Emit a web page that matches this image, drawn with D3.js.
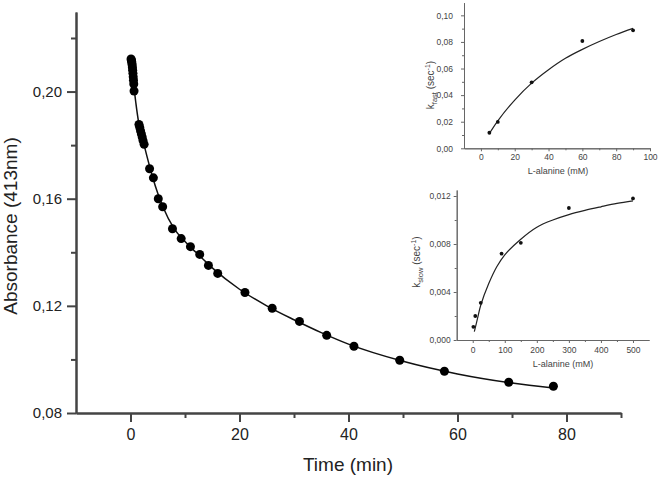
<!DOCTYPE html>
<html>
<head>
<meta charset="utf-8">
<script src="https://cdn.jsdelivr.net/npm/d3@7"></script>
<style>
  body { margin: 0; background: #fff; }
  svg { font-family: "Liberation Sans", Arial, sans-serif; }
</style>
</head>
<body>
<svg id="chart" width="660" height="477"></svg>
<script>
// main plot: absorbance decay
const time = [0.10, 0.15, 0.20, 0.25, 0.30, 0.35, 0.40, 0.45, 0.50, 0.55, 0.60, 0.65,
  1.55, 1.70, 1.85, 2.00, 2.15, 2.30, 2.50,
  3.5, 4.2, 5.1, 5.9, 7.7, 9.3, 11.0, 12.7, 14.3, 16.0, 21.0, 26.0, 31.0, 36.0, 41.0, 49.4, 57.6, 69.4, 77.6]
const absorb = [0.2122, 0.2118, 0.2113, 0.2107, 0.2099, 0.2090, 0.2080, 0.2068, 0.2055, 0.2042, 0.2028, 0.2002,
  0.1877, 0.1866, 0.1853, 0.1842, 0.1830, 0.1817, 0.1803,
  0.1712, 0.1678, 0.1600, 0.1570, 0.1488, 0.1451, 0.1421, 0.1392, 0.1351, 0.1321, 0.1250, 0.1191, 0.1142, 0.1090, 0.1049, 0.0997, 0.0956, 0.0915, 0.0900]
// fitted curve as drawn in the picture
const fitTime = [0, 0.25, 0.5, 0.75, 1, 1.5, 2, 2.5, 3, 4, 5, 6, 8, 10, 12, 15, 20, 25, 30, 35, 40, 50, 60, 70, 77.6]
const fitAbs = [0.2128, 0.2105, 0.2055, 0.1998, 0.1955, 0.1885, 0.1842, 0.1800, 0.1760, 0.1685, 0.1620, 0.1567, 0.1488, 0.1440, 0.1400, 0.1342, 0.1262, 0.1200, 0.1148, 0.1100, 0.1057, 0.0993, 0.0946, 0.0912, 0.0893]
const mainXTicks = [0, 20, 40, 60, 80]
const mainYTicks = [0.08, 0.12, 0.16, 0.20]

// top inset: k_fast
const fastConc = [5, 10, 30, 60, 90]
const fastK = [0.0117, 0.0198, 0.0496, 0.0807, 0.0887]
const fastFitConc = [5, 10, 20, 30, 40, 50, 60, 70, 80, 90]
const fastFitK = [0.0111, 0.0207, 0.0363, 0.0490, 0.0591, 0.0677, 0.0744, 0.0803, 0.0856, 0.0902]
const fastXTicks = [0, 20, 40, 60, 80, 100]
const fastYTicks = [0, 0.02, 0.04, 0.06, 0.08, 0.10]

// bottom inset: k_slow
const slowConc = [2, 8, 25, 90, 150, 300, 500]
const slowK = [0.0011, 0.0020, 0.0031, 0.0072, 0.0081, 0.0110, 0.0118]
const slowFitConc = [5, 15, 25, 50, 75, 100, 150, 200, 250, 300, 350, 400, 450, 500]
const slowFitK = [0.0007, 0.0018, 0.0029, 0.0047, 0.0061, 0.0071, 0.0084, 0.0094, 0.0100, 0.01045, 0.0108, 0.0111, 0.01138, 0.0116]
const slowXTicks = [0, 100, 200, 300, 400, 500]
const slowYTicks = [0, 0.004, 0.008, 0.012]

const svg = d3.select('#chart')
const comma = f => d => d3.format(f)(d).replace('.', ',')

// ---------- main plot ----------
const x = d3.scaleLinear().domain([-10, 90]).range([76, 621])
const y = d3.scaleLinear().domain([0.08, 0.2297]).range([413, 12])

function styleAxis(g, color, width) {
  g.select('.domain').attr('stroke', color).attr('stroke-width', width)
  g.selectAll('.tick line').attr('stroke', color).attr('stroke-width', width)
}

// minor ticks
const mx = svg.append('g').attr('transform', 'translate(0,413)')
  .call(d3.axisBottom(x).tickValues([10, 30, 50, 70, 90]).tickSize(5).tickFormat('').tickSizeOuter(0))
styleAxis(mx, '#444', 2)
const my = svg.append('g').attr('transform', 'translate(76,0)')
  .call(d3.axisLeft(y).tickValues([0.10, 0.14, 0.18, 0.22]).tickSize(5).tickFormat('').tickSizeOuter(0))
styleAxis(my, '#444', 2)

const gx = svg.append('g').attr('transform', 'translate(0,413)')
  .call(d3.axisBottom(x).tickValues(mainXTicks).tickSize(9).tickPadding(7).tickSizeOuter(0))
styleAxis(gx, '#444', 2)
gx.selectAll('text').attr('font-size', 16).attr('fill', '#222')

const gy = svg.append('g').attr('transform', 'translate(76,0)')
  .call(d3.axisLeft(y).tickValues(mainYTicks).tickSize(9).tickPadding(5).tickFormat(comma('.2f')).tickSizeOuter(0))
styleAxis(gy, '#444', 2)
gy.selectAll('text').attr('font-size', 15).attr('fill', '#222')

svg.append('text').attr('x', 348).attr('y', 471).attr('text-anchor', 'middle')
  .attr('font-size', 19).attr('fill', '#222').text('Time (min)')
svg.append('text').attr('transform', 'translate(17,226) rotate(-90)').attr('text-anchor', 'middle')
  .attr('font-size', 19).attr('fill', '#222').text('Absorbance (413nm)')

const mainLine = d3.line().x(d => x(d[0])).y(d => y(d[1])).curve(d3.curveMonotoneX)
svg.append('path').datum(d3.zip(fitTime, fitAbs)).attr('d', mainLine)
  .attr('fill', 'none').attr('stroke', '#111').attr('stroke-width', 1.5)
svg.append('g').selectAll('circle').data(d3.zip(time, absorb)).join('circle')
  .attr('cx', d => x(d[0])).attr('cy', d => y(d[1])).attr('r', 4.5).attr('fill', '#000')

// ---------- insets ----------
function inset(opt) {
  const ix = d3.scaleLinear().domain(opt.xDomain).range(opt.xRange)
  const iy = d3.scaleLinear().domain(opt.yDomain).range(opt.yRange)
  const g = svg.append('g')
  const bottom = opt.yRange[0], left = opt.xRange[0]
  const ax1 = g.append('g').attr('transform', `translate(0,${bottom})`)
    .call(d3.axisBottom(ix).tickValues(opt.xMinor).tickSize(2).tickFormat('').tickSizeOuter(0))
  styleAxis(ax1, '#666', 1)
  const ay1 = g.append('g').attr('transform', `translate(${left},0)`)
    .call(d3.axisLeft(iy).tickValues(opt.yMinor).tickSize(2).tickFormat('').tickSizeOuter(0))
  styleAxis(ay1, '#666', 1)
  const ax = g.append('g').attr('transform', `translate(0,${bottom})`)
    .call(d3.axisBottom(ix).tickValues(opt.xTicks).tickSize(3).tickPadding(opt.xPad).tickSizeOuter(0))
  styleAxis(ax, '#666', 1)
  ax.selectAll('text').attr('font-size', 8.5).attr('fill', '#444')
  const ay = g.append('g').attr('transform', `translate(${left},0)`)
    .call(d3.axisLeft(iy).tickValues(opt.yTicks).tickSize(3).tickPadding(opt.yPad).tickFormat(comma(opt.yFmt)).tickSizeOuter(0))
  styleAxis(ay, '#666', 1)
  ay.selectAll('text').attr('font-size', 8.5).attr('fill', '#444')
  g.selectAll('g').attr('font-family', null)

  g.append('text').attr('x', opt.xLabel[0]).attr('y', opt.xLabel[1]).attr('text-anchor', 'middle')
    .attr('font-size', 9).attr('fill', '#444').text('L-alanine (mM)')
  const t = g.append('text').attr('transform', `translate(${opt.yLabel[0]},${opt.yLabel[1]}) rotate(-90)`)
    .attr('text-anchor', 'middle').attr('font-size', 10).attr('fill', '#444')
  t.append('tspan').text('k')
  t.append('tspan').attr('font-size', 7.5).attr('dy', 2.5).text(opt.sub)
  t.append('tspan').attr('dy', -2.5).text('\u00a0(sec')
  t.append('tspan').attr('font-size', 7).attr('dy', -4).text('-1')
  t.append('tspan').attr('dy', 4).text(')')

  const line = d3.line().x(d => ix(d[0])).y(d => iy(d[1])).curve(d3.curveCatmullRom)
  g.append('path').datum(d3.zip(opt.fitX, opt.fitY)).attr('d', line)
    .attr('fill', 'none').attr('stroke', '#222').attr('stroke-width', 1.2)
  g.append('g').selectAll('circle').data(d3.zip(opt.px, opt.py)).join('circle')
    .attr('cx', d => ix(d[0])).attr('cy', d => iy(d[1])).attr('r', 1.9).attr('fill', '#111')
}

inset({
  xDomain: [-10, 100], xRange: [464, 650], yDomain: [0, 0.1095], yRange: [148.3, 2.7],
  xTicks: fastXTicks, xMinor: [10, 30, 50, 70, 90], yTicks: fastYTicks, yMinor: [0.01, 0.03, 0.05, 0.07, 0.09],
  yFmt: '.2f', xPad: 3, yPad: 8, xLabel: [558, 174], yLabel: [434, 85], sub: 'fast',
  px: fastConc, py: fastK, fitX: fastFitConc, fitY: fastFitK
})
inset({
  xDomain: [-50, 550], xRange: [456.7, 649], yDomain: [0, 0.0125], yRange: [340, 190],
  xTicks: slowXTicks, xMinor: [50, 150, 250, 350, 450], yTicks: slowYTicks, yMinor: [0.002, 0.006, 0.010],
  yFmt: '.3f', xPad: 4, yPad: 3, xLabel: [563, 367], yLabel: [420, 262], sub: 'slow',
  px: slowConc, py: slowK, fitX: slowFitConc, fitY: slowFitK
})
</script>
</body>
</html>
